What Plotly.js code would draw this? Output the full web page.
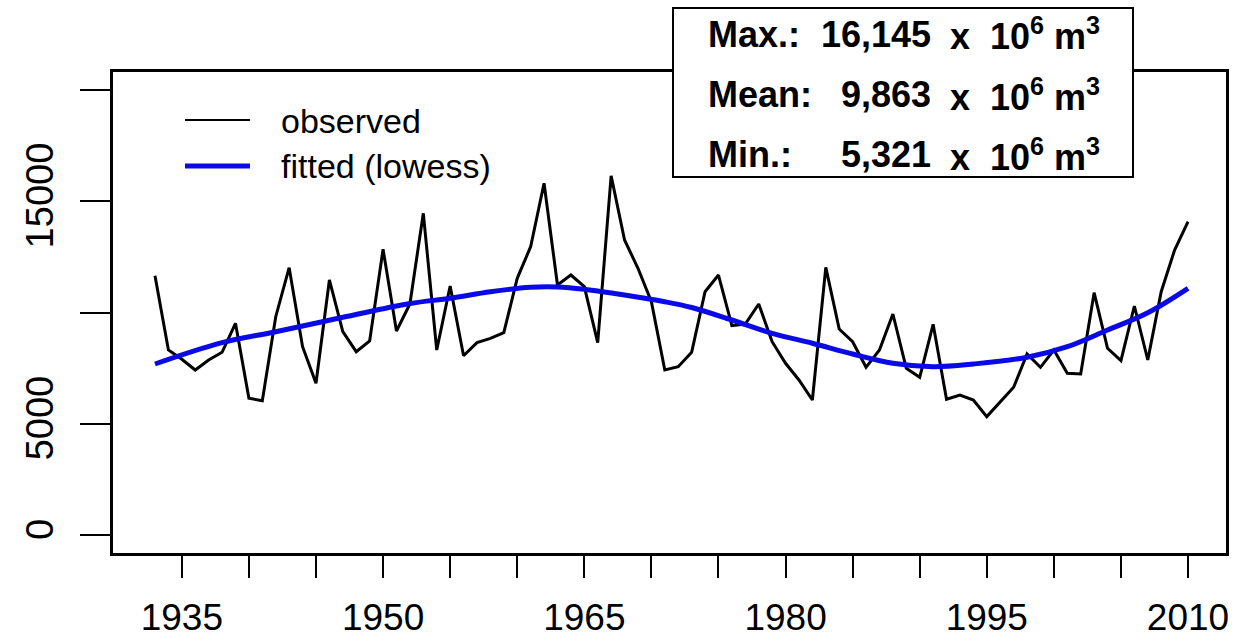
<!DOCTYPE html>
<html>
<head>
<meta charset="utf-8">
<script src="https://cdn.plot.ly/plotly-3.0.1.min.js"></script>
<style>html,body{margin:0;padding:0;background:#fff;}#chart{width:1246px;height:643px;}</style>
</head>
<body>
<div id="chart"></div>
<script>
// ---- data ----
const years = [1933,1934,1935,1936,1937,1938,1939,1940,1941,1942,
  1943,1944,1945,1946,1947,1948,1949,1950,1951,1952,
  1953,1954,1955,1956,1957,1958,1959,1960,1961,1962,
  1963,1964,1965,1966,1967,1968,1969,1970,1971,1972,
  1973,1974,1975,1976,1977,1978,1979,1980,1981,1982,
  1983,1984,1985,1986,1987,1988,1989,1990,1991,1992,
  1993,1994,1995,1996,1997,1998,1999,2000,2001,2002,
  2003,2004,2005,2006,2007,2008,2009,2010];
const observed = [11654,8315,7897,7416,7865,8211,9515,6144,6036,9811,
  12013,8463,6818,11461,9137,8238,8719,12840,9169,10382,
  14458,8315,11191,8058,8643,8840,9092,11537,12957,15807,
  11236,11685,11160,8643,16145,13258,11987,10485,7416,7564,
  8211,10935,11685,9407,9483,10382,8688,7717,6966,6067,
  12031,9258,8688,7537,8315,9933,7492,7088,9470,6099,
  6292,6067,5321,5991,6638,8135,7537,8315,7267,7236,
  10890,8391,7834,10292,7865,10935,12809,14081];
const fitYears = [1933,1938,1942,1947,1952,1955,1958,1961,1963,1965,1968,1971,1973,1976,1979,1982,1985,1988,1991,1994,1998,2001,2004,2007,2010];
const fitted = [7685,8643,9137,9784,10404,10638,10935,11133,11146,11043,10787,10485,10225,9663,9065,8616,8135,7717,7564,7685,7987,8463,9213,9991,11088];
const xLabelVals = [1935,1950,1965,1980,1995,2010];
const xLabelText = ['1935','1950','1965','1980','1995','2010'];
const xMinorVals = [1940,1945,1955,1960,1970,1975,1985,1990,2000,2005];
const yLabelVals = [0,5000,15000];
const yLabelText = ['0','5000','15000'];
const yMinorVals = [10000,20000];
const legendLabels = ['observed','fitted (lowess)'];
const statLabels = ['Max.:','Mean:','Min.:'];
const statValues = ['16,145','9,863','5,321'];
const statUnit = 'x\u00A0\u00A010<sup>6</sup> m<sup>3</sup>';

// ---- layout helpers (pixel -> paper) ----
const W = 1246, H = 643, L = 113, R = 20, T = 72, B = 90;
const pw = W - L - R, ph = H - T - B;
const px = x => (x - L) / pw;
const py = y => (H - B - y) / ph;
const FONT = 'Liberation Sans, Arial, Helvetica, sans-serif';
const BLUE = '#0a0ae6';

const traces = [
  {x: years, y: observed, type: 'scatter', mode: 'lines',
   line: {color: '#000000', width: 3}, name: legendLabels[0]},
  {x: fitYears, y: fitted, type: 'scatter', mode: 'lines',
   line: {color: BLUE, width: 5, shape: 'spline', smoothing: 1}, name: legendLabels[1]}
];

const shapes = [
  {type: 'line', xref: 'paper', yref: 'paper', x0: px(185), x1: px(250), y0: py(120), y1: py(120),
   line: {color: '#000', width: 2}},
  {type: 'line', xref: 'paper', yref: 'paper', x0: px(185), x1: px(250), y0: py(166), y1: py(166),
   line: {color: BLUE, width: 5}},
  {type: 'rect', xref: 'paper', yref: 'paper', x0: px(673), x1: px(1133), y0: py(8), y1: py(177),
   fillcolor: '#ffffff', line: {color: '#000', width: 2}, layer: 'above'}
];

const annotations = [];
annotations.push({xref: 'paper', yref: 'paper', x: px(279), y: py(121), xanchor: 'left', yanchor: 'middle',
  text: legendLabels[0], showarrow: false, font: {family: FONT, size: 34, color: '#000'}});
annotations.push({xref: 'paper', yref: 'paper', x: px(279), y: py(166), xanchor: 'left', yanchor: 'middle',
  text: legendLabels[1], showarrow: false, font: {family: FONT, size: 34, color: '#000'}});
const rowY = [34, 95, 155];
for (let i = 0; i < 3; i++) {
  annotations.push({xref: 'paper', yref: 'paper', x: px(706), y: py(rowY[i]), xanchor: 'left', yanchor: 'middle',
    text: '<b>' + statLabels[i] + '</b>', showarrow: false, font: {family: FONT, size: 36, color: '#000'}});
  annotations.push({xref: 'paper', yref: 'paper', x: px(933), y: py(rowY[i]), xanchor: 'right', yanchor: 'middle',
    text: '<b>' + statValues[i] + '</b>', showarrow: false, font: {family: FONT, size: 36, color: '#000'}});
  annotations.push({xref: 'paper', yref: 'paper', x: px(948), y: py(rowY[i]), xanchor: 'left', yanchor: 'middle',
    text: '<b>' + statUnit + '</b>', showarrow: false, font: {family: FONT, size: 36, color: '#000'}});
}

const layout = {
  width: W, height: H,
  margin: {l: L, r: R, t: T, b: B, pad: 0},
  paper_bgcolor: '#ffffff', plot_bgcolor: '#ffffff',
  showlegend: false,
  font: {family: FONT, color: '#000'},
  xaxis: {
    range: [1929.87, 2012.83], tickmode: 'array', tickvals: xLabelVals, ticktext: xLabelText,
    ticks: 'outside', ticklen: 22, tickwidth: 2, tickcolor: '#000',
    minor: {tickmode: 'array', tickvals: xMinorVals, ticks: 'outside', ticklen: 22, tickwidth: 2, tickcolor: '#000', showgrid: false},
    showgrid: false, zeroline: false, showline: true, mirror: true, linewidth: 3, linecolor: '#000',
    tickfont: {family: FONT, size: 37, color: '#000'}, ticklabelstandoff: 8
  },
  yaxis: {
    range: [-809, 20809], tickmode: 'array', tickvals: yLabelVals, ticktext: yLabelText,
    ticks: 'outside', ticklen: 30, tickwidth: 2, tickcolor: '#000', tickangle: -90,
    minor: {tickmode: 'array', tickvals: yMinorVals, ticks: 'outside', ticklen: 30, tickwidth: 2, tickcolor: '#000', showgrid: false},
    showgrid: false, zeroline: false, showline: true, mirror: true, linewidth: 3, linecolor: '#000',
    tickfont: {family: FONT, size: 38, color: '#000'}, ticklabelstandoff: 12
  },
  shapes: shapes,
  annotations: annotations
};

Plotly.newPlot('chart', traces, layout, {displayModeBar: false, staticPlot: true});
</script>
</body>
</html>
